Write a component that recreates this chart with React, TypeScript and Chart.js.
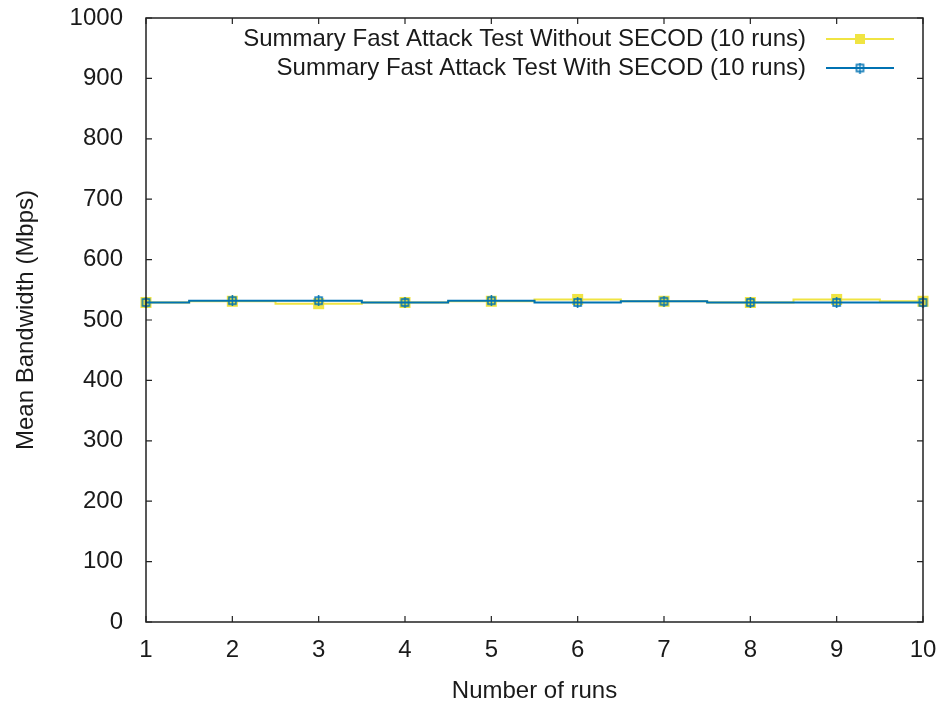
import React, { useEffect, useRef } from 'react';
import { Chart, registerables } from 'chart.js';

Chart.register(...registerables);

const runs = [1, 2, 3, 4, 5, 6, 7, 8, 9, 10];
const withoutSecod = [529, 531, 527, 529, 531, 534, 531, 529, 534, 531];
const withSecod = [529, 532, 532, 529, 532, 529, 531, 529, 529, 529];
const labelWithout = 'Summary Fast Attack Test Without SECOD (10 runs)';
const labelWith = 'Summary Fast Attack Test With SECOD (10 runs)';
const xTitle = 'Number of runs';
const yTitle = 'Mean Bandwidth (Mbps)';

const YELLOW = '#f0e442';
const BLUE = '#0072b2';
const TEXT = '#1a1a1a';
const FONT = 'Liberation Sans, Arial, sans-serif';
const FS = 24;

function makeBlueMarker(): HTMLCanvasElement {
  const c = document.createElement('canvas');
  c.width = 11;
  c.height = 11;
  const ctx = c.getContext('2d')!;
  ctx.strokeStyle = BLUE;
  ctx.lineWidth = 1.5;
  ctx.strokeRect(2, 2, 7, 7);
  ctx.beginPath();
  ctx.moveTo(5.5, 0);
  ctx.lineTo(5.5, 11);
  ctx.stroke();
  return c;
}

const framePlugin = {
  id: 'gnuframe',
  afterDatasetsDraw(chart: any) {
    const { ctx, chartArea } = chart;
    const xs = chart.scales.x;
    const ys = chart.scales.y;
    const { left, right, top, bottom } = chartArea;
    ctx.save();
    ctx.strokeStyle = '#222';
    ctx.lineWidth = 1.5;
    ctx.beginPath();
    ctx.rect(left, top, right - left, bottom - top);
    ctx.stroke();
    ctx.lineWidth = 1.2;
    ctx.beginPath();
    const tl = 6;
    xs.ticks.forEach((t: any) => {
      const px = xs.getPixelForValue(t.value);
      ctx.moveTo(px, bottom);
      ctx.lineTo(px, bottom - tl);
      ctx.moveTo(px, top);
      ctx.lineTo(px, top + tl);
    });
    ys.ticks.forEach((t: any) => {
      const py = ys.getPixelForValue(t.value);
      ctx.moveTo(left, py);
      ctx.lineTo(left + tl, py);
      ctx.moveTo(right, py);
      ctx.lineTo(right - tl, py);
    });
    ctx.stroke();

    // legend
    const rows = [
      { label: chart.data.datasets[0].label, color: YELLOW, kind: 'fill', y: 39 },
      { label: chart.data.datasets[1].label, color: BLUE, kind: 'open', y: 68 },
    ];
    ctx.font = `${FS}px ${FONT}`;
    ctx.textAlign = 'right';
    ctx.textBaseline = 'middle';
    rows.forEach((r) => {
      ctx.fillStyle = TEXT;
      ctx.fillText(r.label, 806, r.y);
      ctx.strokeStyle = r.color;
      ctx.lineWidth = 2;
      ctx.beginPath();
      ctx.moveTo(826, r.y);
      ctx.lineTo(894, r.y);
      ctx.stroke();
      if (r.kind === 'fill') {
        ctx.fillStyle = r.color;
        ctx.fillRect(855, r.y - 5, 10, 10);
      } else {
        ctx.drawImage(chart.data.datasets[1].pointStyle, 860 - 5.5, r.y - 5.5);
      }
    });
    ctx.restore();
  },
};

function zeroPad(s: any) {
  s.paddingTop = 0;
  s.paddingBottom = 0;
  s.paddingLeft = 0;
  s.paddingRight = 0;
}

export default function App() {
  const ref = useRef<HTMLCanvasElement>(null);
  useEffect(() => {
    document.body.style.margin = '0';
    const blueMarker = makeBlueMarker();
    const tickFont = { family: FONT, size: FS };
    const chart = new Chart(ref.current!, {
      type: 'line',
      data: {
        datasets: [
          {
            label: labelWithout,
            data: runs.map((r, i) => ({ x: r, y: withoutSecod[i] })),
            borderColor: YELLOW,
            backgroundColor: YELLOW,
            borderWidth: 2,
            stepped: 'middle',
            pointStyle: 'rect',
            pointRadius: 7.8,
            pointBorderWidth: 0,
            clip: false,
            order: 1,
          },
          {
            label: labelWith,
            data: runs.map((r, i) => ({ x: r, y: withSecod[i] })),
            borderColor: BLUE,
            backgroundColor: BLUE,
            borderWidth: 2,
            stepped: 'middle',
            pointStyle: blueMarker as any,
            pointRadius: 6,
            clip: false,
            order: 0,
          },
        ],
      },
      options: {
        animation: false,
        responsive: false,
        maintainAspectRatio: false,
        layout: { padding: { top: 18, right: 22, left: 0, bottom: 0 } },
        plugins: { legend: { display: false }, tooltip: { enabled: false } },
        scales: {
          x: {
            type: 'linear',
            min: 1,
            max: 10,
            ticks: { stepSize: 1, padding: 6, color: TEXT, font: tickFont, callback: (v: any) => String(v) },
            grid: { display: false },
            border: { display: false },
            title: { display: true, text: xTitle, color: TEXT, font: tickFont, padding: { top: 0, bottom: 1 } },
            afterFit: (s: any) => { s.height = 85; zeroPad(s); },
          },
          y: {
            type: 'linear',
            min: 0,
            max: 1000,
            ticks: { stepSize: 100, padding: 15, color: TEXT, font: tickFont, callback: (v: any) => String(v) },
            grid: { display: false },
            border: { display: false },
            title: { display: true, text: yTitle, color: TEXT, font: tickFont, padding: { top: 12, bottom: 0 } },
            afterFit: (s: any) => { s.width = 146; zeroPad(s); },
          },
        },
      },
      plugins: [framePlugin],
    });
    return () => chart.destroy();
  }, []);
  return (
    <div style={{ width: 945, height: 707, background: '#fff' }}>
      <canvas ref={ref} width={945} height={707} style={{ display: 'block' }} />
    </div>
  );
}
